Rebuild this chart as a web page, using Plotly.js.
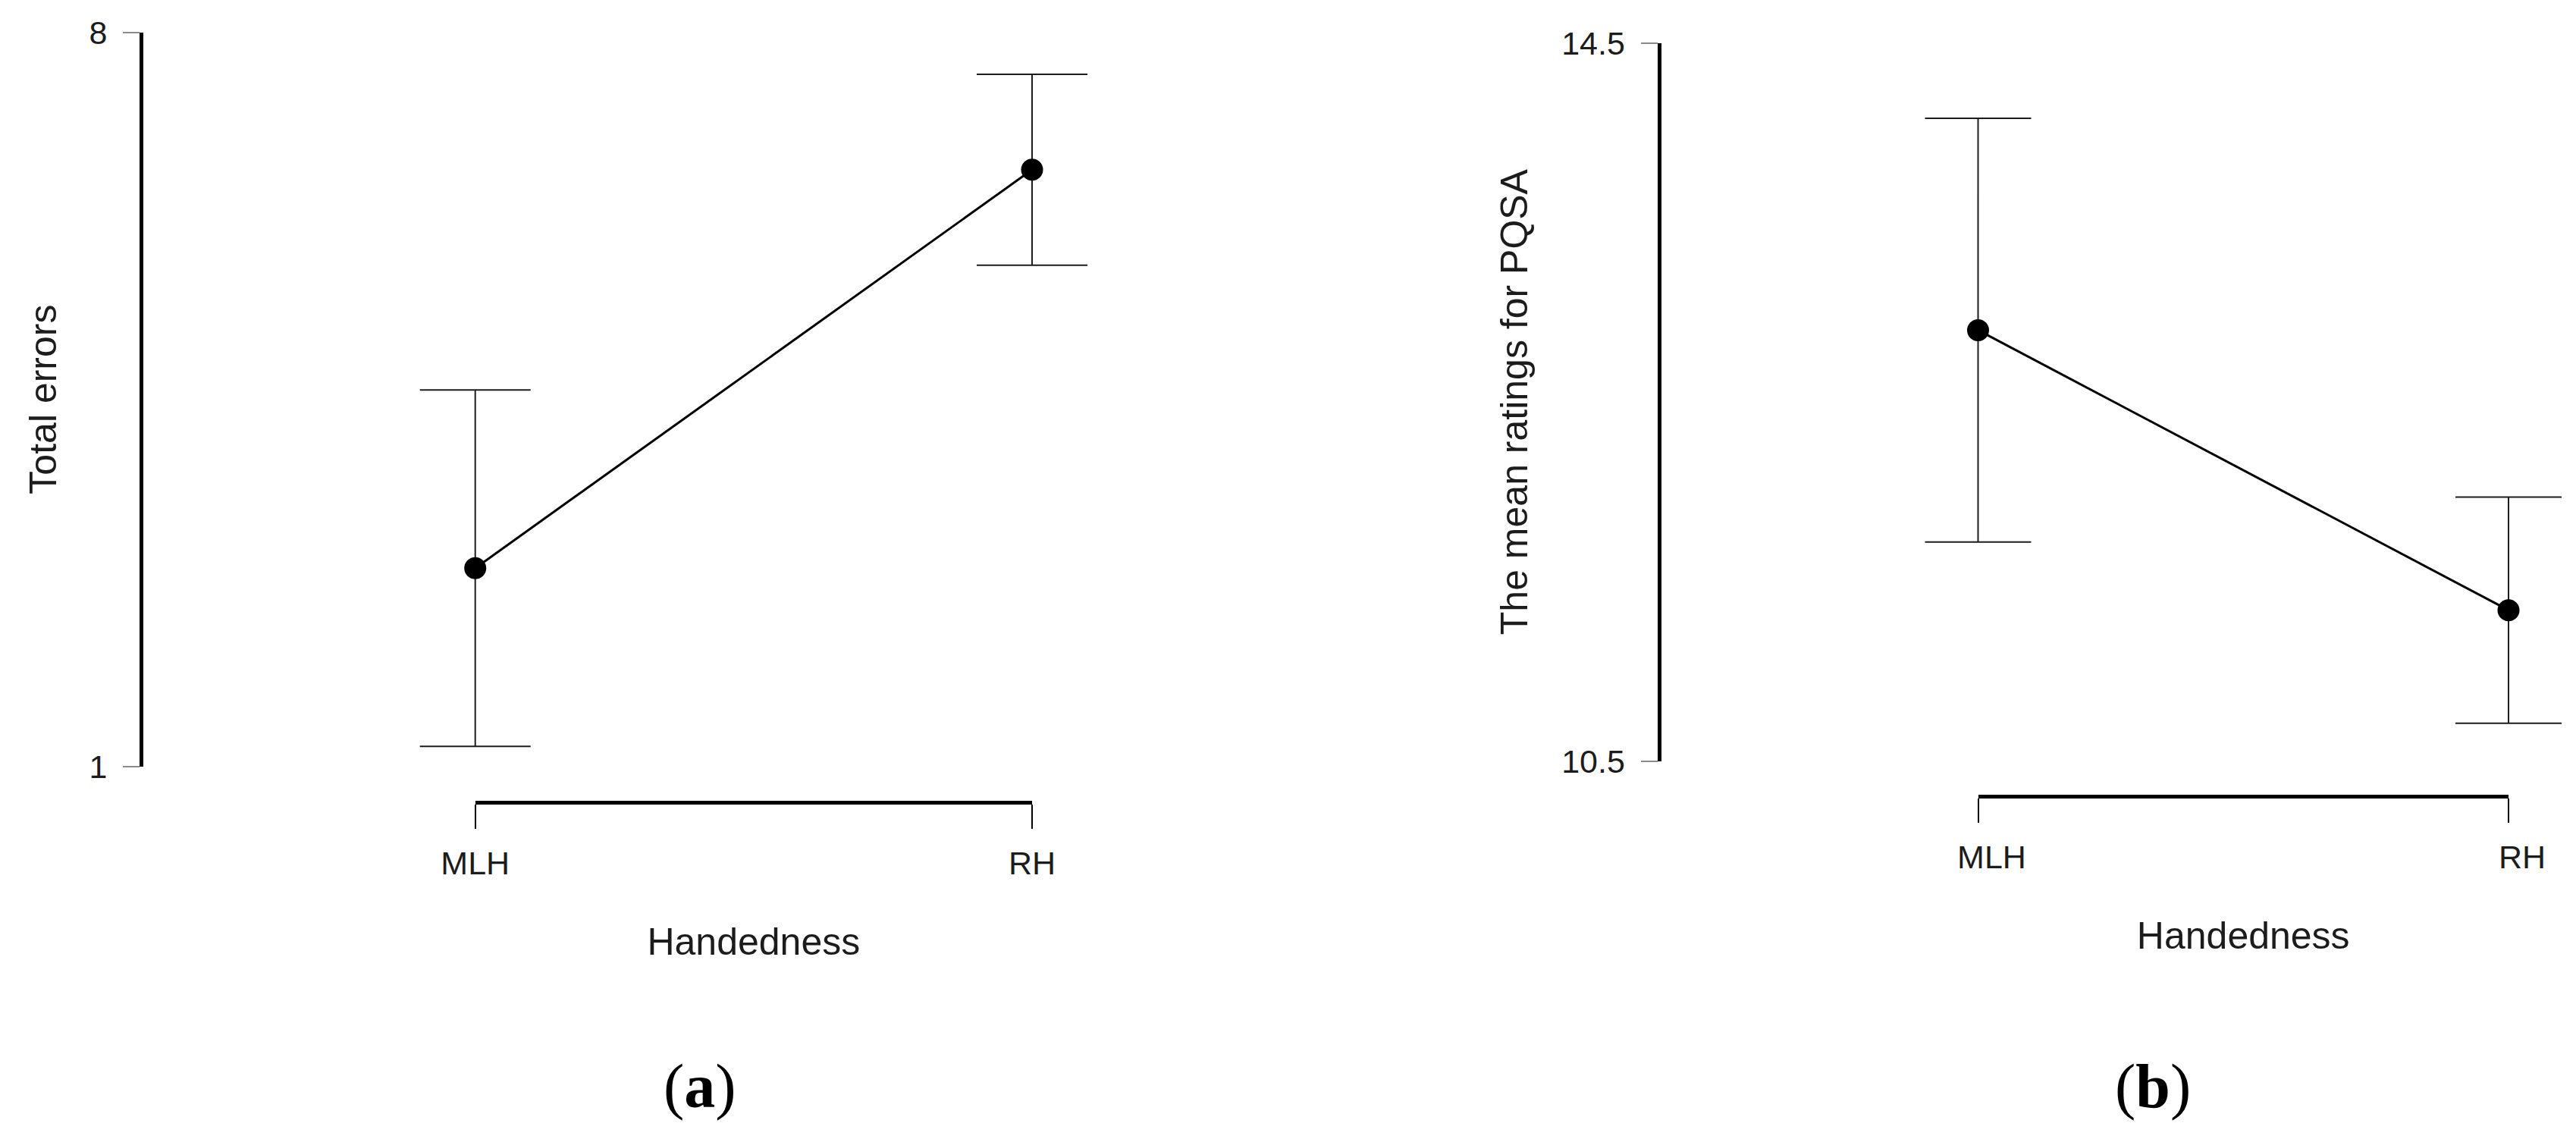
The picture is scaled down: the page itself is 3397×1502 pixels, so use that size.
<!DOCTYPE html>
<html><head><meta charset="utf-8">
<script src="https://cdn.plot.ly/plotly-3.0.1.min.js"></script>
<style>html,body{margin:0;padding:0;background:#fff;} #chart{width:3397px;height:1502px;}</style>
</head><body><div id="chart"></div>
<script>
// ---- data ----
const categories = ['MLH', 'RH'];
const errorsMean = [2.89, 6.69];
const errorsCI = [1.70, 0.91];
const pqsaMean = [12.90, 11.34];
const pqsaCI = [1.18, 0.63];
const errorsTicks = [1, 8];
const pqsaTicks = [10.5, 14.5];
const pqsaTickText = ['10.5', '14.5'];
const xTitle = 'Handedness';
const yTitleA = 'Total errors';
const yTitleB = 'The mean ratings for PQSA';
const panelLabels = ['(<b>a</b>)', '(<b>b</b>)'];

// ---- geometry (pixels in a 3397 x 1502 page) ----
const W = 3397, H = 1502;
const px = v => v / W;
const py = v => 1 - v / H;
const PAD = 0.12;
const panels = [
  {axisX: 186, yTop: 42.7, yBot: 1010.5, catL: 626.7, catR: 1361, bracketY: 1058, capW: 73, labelX: 923, ySO: 25, shift: 0},
  {axisX: 2187.5, yTop: 56.7, yBot: 1003.5, catL: 2608.5, catR: 3308, bracketY: 1050, capW: 70, labelX: 2839, ySO: 27, shift: 18}
];
const FONT = 'Liberation Sans, Arial, Helvetica, sans-serif';
const INK = '#1c1c1c';

function dataDomain(p) {
  const span = p.catR - p.catL;
  return [px(p.catL - PAD * span), px(p.catR + PAD * span)];
}

function makeTrace(means, ci, p, xa, ya) {
  return {
    type: 'scatter', mode: 'lines+markers', x: categories, y: means,
    xaxis: xa, yaxis: ya, showlegend: false, hoverinfo: 'x+y',
    line: {color: '#000', width: 3},
    marker: {color: '#000', size: 29},
    error_y: {type: 'data', array: ci, visible: true, color: INK, thickness: 2, width: p.capW}
  };
}
function decorTrace(means, xa, ya) {
  return {type: 'scatter', mode: 'none', x: categories, y: means, xaxis: xa, yaxis: ya, showlegend: false, hoverinfo: 'skip'};
}

const traces = [
  makeTrace(errorsMean, errorsCI, panels[0], 'x', 'y'),
  decorTrace(errorsMean, 'x3', 'y'),
  makeTrace(pqsaMean, pqsaCI, panels[1], 'x2', 'y2'),
  decorTrace(pqsaMean, 'x4', 'y2')
];

function yAxis(p, range, tickvals, ticktext, title) {
  return {
    domain: [py(p.yBot), py(p.yTop)], range: range, anchor: 'free', position: px(p.axisX),
    tickmode: 'array', tickvals: tickvals, ticktext: ticktext,
    showline: true, linewidth: 5, linecolor: '#000',
    ticks: 'outside', ticklen: 22, tickwidth: 2, tickcolor: '#8a8a8a',
    ticklabelstandoff: 12,
    showgrid: false, zeroline: false,
    tickfont: {family: FONT, size: 43, color: INK},
    title: {text: title, font: {family: FONT, size: 50, color: INK}, standoff: p.ySO}
  };
}
function dataX(p, anchor) {
  return {
    domain: dataDomain(p), range: [-PAD, 1 + PAD], type: 'category',
    categoryorder: 'array', categoryarray: categories,
    anchor: anchor, visible: false, showgrid: false, zeroline: false
  };
}
function decorX(p) {
  return {
    domain: [px(p.catL), px(p.catR)], range: [0, 1], type: 'category',
    categoryorder: 'array', categoryarray: categories,
    anchor: 'free', position: py(p.bracketY),
    showline: true, linewidth: 5, linecolor: '#000',
    ticks: 'outside', ticklen: 32, tickwidth: 2, tickcolor: '#000',
    ticklabelstandoff: 8, ticklabelshift: p.shift,
    showgrid: false, zeroline: false,
    tickfont: {family: FONT, size: 43, color: INK},
    title: {text: xTitle, font: {family: FONT, size: 50, color: INK}, standoff: 63}
  };
}

const layout = {
  width: W, height: H,
  margin: {l: 0, r: 0, t: 0, b: 0, pad: 0},
  paper_bgcolor: '#fff', plot_bgcolor: 'rgba(0,0,0,0)',
  showlegend: false,
  xaxis: dataX(panels[0], 'y'),
  yaxis: yAxis(panels[0], [errorsTicks[0], errorsTicks[1]], errorsTicks, errorsTicks.map(String), yTitleA),
  xaxis2: dataX(panels[1], 'y2'),
  yaxis2: yAxis(panels[1], [pqsaTicks[0], pqsaTicks[1]], pqsaTicks, pqsaTickText, yTitleB),
  xaxis3: decorX(panels[0]),
  xaxis4: decorX(panels[1]),
  annotations: panels.map((p, i) => ({
    text: panelLabels[i], x: px(p.labelX), y: py(1432), xref: 'paper', yref: 'paper',
    xanchor: 'center', yanchor: 'middle', showarrow: false,
    font: {family: 'Liberation Serif, Times New Roman, serif', size: 82, color: '#000'}
  }))
};

Plotly.newPlot('chart', traces, layout, {staticPlot: true, displayModeBar: false});
</script></body></html>
